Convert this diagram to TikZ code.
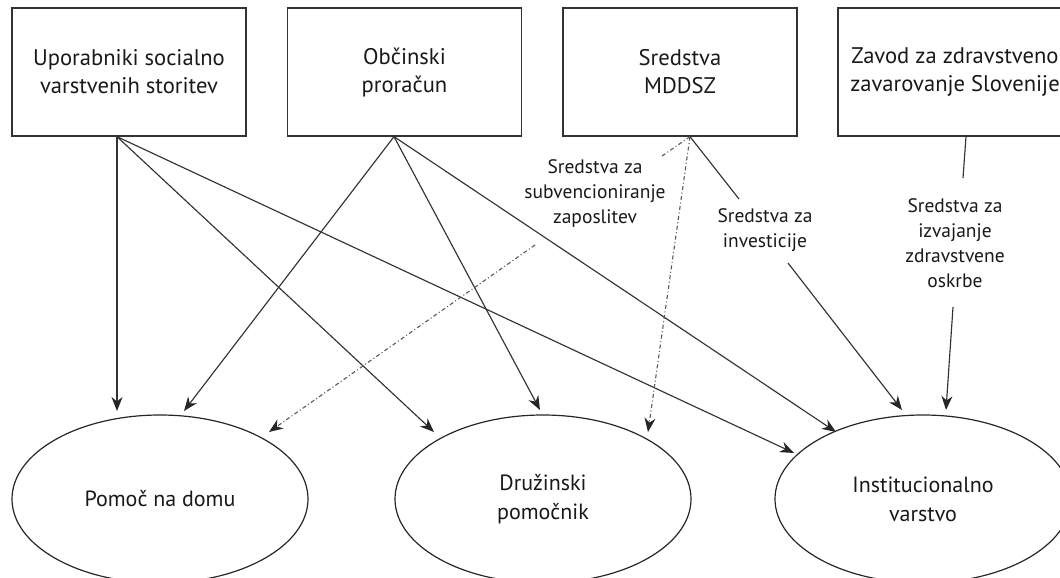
\documentclass[tikz,border=0pt]{standalone}
\usepackage{fontspec}
\setmainfont{PT Sans}
\usetikzlibrary{arrows.meta,calc,shapes.geometric}
\begin{document}
\begin{tikzpicture}[x=1pt,y=-1pt,
  box/.style={draw=black!80,line width=1.3pt,minimum width=234pt,minimum height=128pt,align=center,font=\fontsize{22.6}{28}\selectfont,inner sep=0pt,text=black!90},
  oval/.style={draw=black!85,line width=1.2pt,ellipse,minimum width=296pt,minimum height=168pt,align=center,font=\fontsize{22}{29}\selectfont,inner sep=0pt,text=black!90},
  lab/.style={align=center,font=\fontsize{19.5}{25}\selectfont,inner sep=0pt,text=black!90},
  conn/.style={draw=black!80,line width=1.15pt},
  tip/.style={-{Stealth[length=14pt,width=11pt,inset=4.5pt,color=black!85]}},
  arr/.style={conn,tip},
  dd/.style={draw=black!65,line width=1.1pt,dash pattern=on 4pt off 2.5pt on 1pt off 2.5pt},
]
\useasboundingbox (0,0) rectangle (1060,578);
\clip (0,0) rectangle (1060,578);

% boxes
\node[box] (b1) at (129,72) {Uporabniki socialno\\varstvenih storitev};
\node[box] (b2) at (404.5,72) {Občinski\\proračun};
\node[box] (b3) at (680,72) {Sredstva\\MDDSZ};
\node[box] (b4) at (955,72) {Zavod za zdravstveno\\zavarovanje Slovenije};

% ellipses
\node[oval] (e1) at (160,499) {Pomoč na domu};
\node[oval] (e2) at (543,499) {Družinski\\pomočnik};
\node[oval] (e3) at (923,499) {Institucionalno\\varstvo};

% labels
\node[lab] (l1) at (595,194) {Sredstva za\\subvencioniranje\\zaposlitev};
\node[lab] (l2) at (765,230) {Sredstva za\\investicije};
\node[lab] (l3) at (955,243) {Sredstva za\\izvajanje\\zdravstvene\\oskrbe};

% source points
\coordinate (s1) at ($(b1.south)+(-12,0)$);
\coordinate (s2) at ($(b2.south)+(-10.5,0)$);
\coordinate (s3) at ($(b3.south)+(10,0)$);
\coordinate (s4) at ($(b4.south)+(11,0)$);

% tip points
\coordinate (t11) at (117,411);
\coordinate (t21) at (184,411);
\coordinate (t31) at (269,432);
\coordinate (t12) at (434,432);
\coordinate (t22) at (540,410);
\coordinate (t32) at (648,432);
\coordinate (t13) at (794,453);
\coordinate (t23) at (836,432);
\coordinate (t33) at (902,410);
\coordinate (t43) at (946,410);

% label gaps
\coordinate (g1) at (662,156);
\coordinate (g2) at (535,245);
\coordinate (g3) at (739,199);
\coordinate (g4) at (788,263);
\coordinate (g5) at (963,178);
\coordinate (g6) at (953,307);

% connectors
\draw[arr] (s1) -- (t11);
\draw[arr] (s1) -- (t12);
\draw[arr] (s1) -- (t13);
\draw[arr] (s2) -- (t21);
\draw[arr] (s2) -- (t22);
\draw[arr] (s2) -- (t23);
\draw[dd] (s3) -- (g1);
\draw[dd,tip] (g2) -- (t31);
\draw[dd,tip] (s3) -- (t32);
\draw[conn] (s3) -- (g3);
\draw[arr] (g4) -- (t33);
\draw[conn] (s4) -- (g5);
\draw[arr] (g6) -- (t43);
\end{tikzpicture}
\end{document}
